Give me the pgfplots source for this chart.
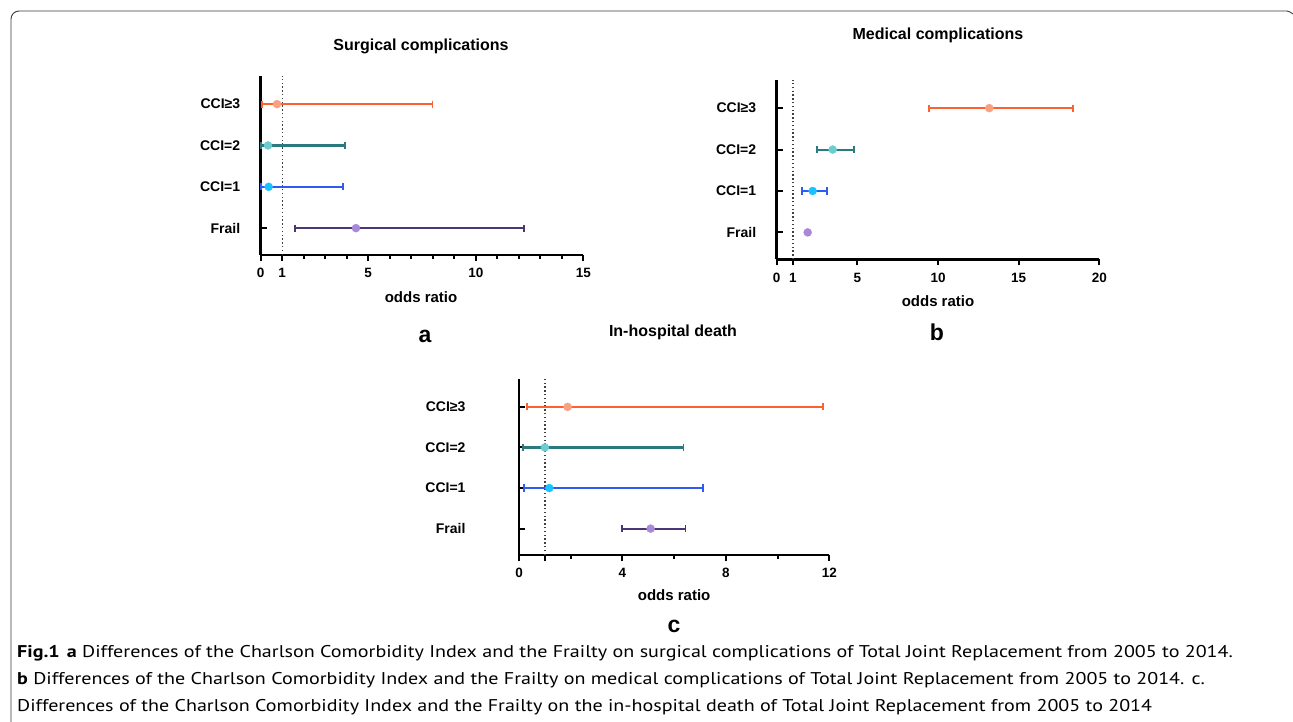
\documentclass[border=0pt]{standalone}
\usepackage{fontspec}
\setmainfont{Liberation Sans}
\newfontfamily\capfont[FakeStretch=1.18]{PT Sans}
\usepackage{pgfplots}
\pgfplotsset{compat=1.18}

\definecolor{cthreeline}{HTML}{FF6030}
\definecolor{cthreemark}{HTML}{F8A080}
\definecolor{ctwoline}{HTML}{2A7A80}
\definecolor{ctwomark}{HTML}{6CCCD0}
\definecolor{coneline}{HTML}{2F5BF0}
\definecolor{conemark}{HTML}{18C4FF}
\definecolor{frline}{HTML}{4A3575}
\definecolor{frmark}{HTML}{A888D8}
\definecolor{framegray}{HTML}{3A3A3A}

\pgfplotsset{
  forest/.style={
    scale only axis,
    axis lines=left,
    axis line style={-, line width=2.8pt, black},
    ymin=0.35, ymax=4.68,
    ytick={1,2,3,4},
    yticklabels={Frail,CCI=1,CCI=2,CCI≥3},
    y tick label style={font=\fontsize{14}{14}\selectfont\bfseries, xshift=-17pt},
    x tick label style={font=\fontsize{13.5}{13.5}\selectfont\bfseries, yshift=-4pt},
    /pgf/number format/assume math mode=true,
    tick style={black, line width=2pt},
    major tick length=6pt, minor tick length=4pt,
    xtick align=outside, ytick align=inside,
    clip=false,
    xlabel={odds ratio},
    label style={font=\fontsize{15}{15}\selectfont\bfseries},
  },
}

% #1 line colour, #2 marker colour, #3 y, #4 estimate, #5 lower, #6 upper
\newcommand{\ci}[6]{%
  \addplot[forget plot, mark=none, draw=#1, line width=2.1pt]
    coordinates {(#5,#3) (#6,#3)};
  \addplot[forget plot, only marks, mark=|, mark size=3.6pt,
    mark options={draw=#1, line width=1.9pt}]
    coordinates {(#5,#3) (#6,#3)};
  \addplot[forget plot, only marks, mark=*, mark size=4pt,
    mark options={draw=#2, fill=#2}]
    coordinates {(#4,#3)};
}
\newcommand{\refline}{%
  \addplot[forget plot, black!75, line width=1.4pt, dash pattern=on 1.4pt off 2.4pt]
    coordinates {(1,0.35) (1,4.68)};
}

\begin{document}
\begin{tikzpicture}[x=1pt,y=1pt]
\useasboundingbox (0,0) rectangle (1293,-722);

% frame
\draw[framegray, line width=0.9pt, rounded corners=8pt]
  (11,-722) -- (11,-11) -- (1287,-11);
\draw[framegray, line width=0.9pt] (1287,-11) -- (1290,-12) -- (1293,-14);

% ---------- panel a ----------
\begin{axis}[forest,
  at={(260.7pt,-255pt)}, anchor=origin,
  width=322.6pt, height=179pt,
  xmin=0, xmax=15,
  xtick={0,1,5,10,15},
  minor xtick={2,3,4,6,7,8,9,11,12,13,14},
  xlabel style={at={(axis description cs:0.497,-0.2346)}, anchor=center},
]
\refline
\ci{cthreeline}{cthreemark}{4}{0.76}{0.06}{7.99}
\ci{ctwoline}{ctwomark}{3}{0.34}{0.03}{3.90}
\ci{coneline}{conemark}{2}{0.37}{0.03}{3.83}
\ci{frline}{frmark}{1}{4.43}{1.60}{12.24}
\end{axis}

% ---------- panel b ----------
\begin{axis}[forest,
  at={(776.7pt,-259.3pt)}, anchor=origin,
  width=322.6pt, height=179.3pt,
  xmin=0, xmax=20,
  xtick={0,1,5,10,15,20},
  xlabel style={at={(axis description cs:0.5,-0.2326)}, anchor=center},
]
\refline
\ci{cthreeline}{cthreemark}{4}{13.18}{9.46}{18.35}
\ci{ctwoline}{ctwomark}{3}{3.47}{2.48}{4.81}
\ci{coneline}{conemark}{2}{2.23}{1.59}{3.12}
\ci{frline}{frmark}{1}{1.92}{1.85}{2.00}
\end{axis}

% ---------- panel c ----------
\begin{axis}[forest,
  at={(519pt,-555pt)}, anchor=origin,
  width=310.3pt, height=175.7pt,
  xmin=0, xmax=12,
  xtick={0,1,4,8,12},
  xticklabels={0,,4,8,12},
  minor xtick={2,6,10},
  y tick label style={xshift=-33pt},
  xlabel style={at={(axis description cs:0.5,-0.2277)}, anchor=center},
]
\refline
\ci{cthreeline}{cthreemark}{4}{1.88}{0.30}{11.74}
\ci{ctwoline}{ctwomark}{3}{1.00}{0.14}{6.36}
\ci{coneline}{conemark}{2}{1.17}{0.19}{7.10}
\ci{frline}{frmark}{1}{5.09}{3.98}{6.44}
\end{axis}

% titles
\begin{scope}[every node/.style={font=\fontsize{16}{16}\selectfont\bfseries}]
\node at (421,-46.3) {Surgical complications};
\node at (938,-35.3) {Medical complications};
\node at (673,-332) {In-hospital death};
\end{scope}

% panel letters
\node[font=\fontsize{23}{23}\selectfont\bfseries] at (425,-336.5) {a};
\node[font=\fontsize{23}{23}\selectfont\bfseries] at (937,-332.5) {b};
\node[font=\fontsize{23}{23}\selectfont\bfseries] at (674,-626) {c};

% caption
\begin{scope}[every node/.style={anchor=base west, inner sep=0pt, font=\capfont\fontsize{17}{17}\selectfont}]
\node at (17,-657) {\textbf{Fig.1}\hspace{7pt}\textbf{a} Differences of the Charlson Comorbidity Index and the Frailty on surgical complications of Total Joint Replacement from 2005 to 2014.};
\node at (17,-684) {\textbf{b} Differences of the Charlson Comorbidity Index and the Frailty on medical complications of Total Joint Replacement from 2005 to 2014. c.};
\node at (17,-711) {Differences of the Charlson Comorbidity Index and the Frailty on the in-hospital death of Total Joint Replacement from 2005 to 2014};
\end{scope}
\end{tikzpicture}
\end{document}
